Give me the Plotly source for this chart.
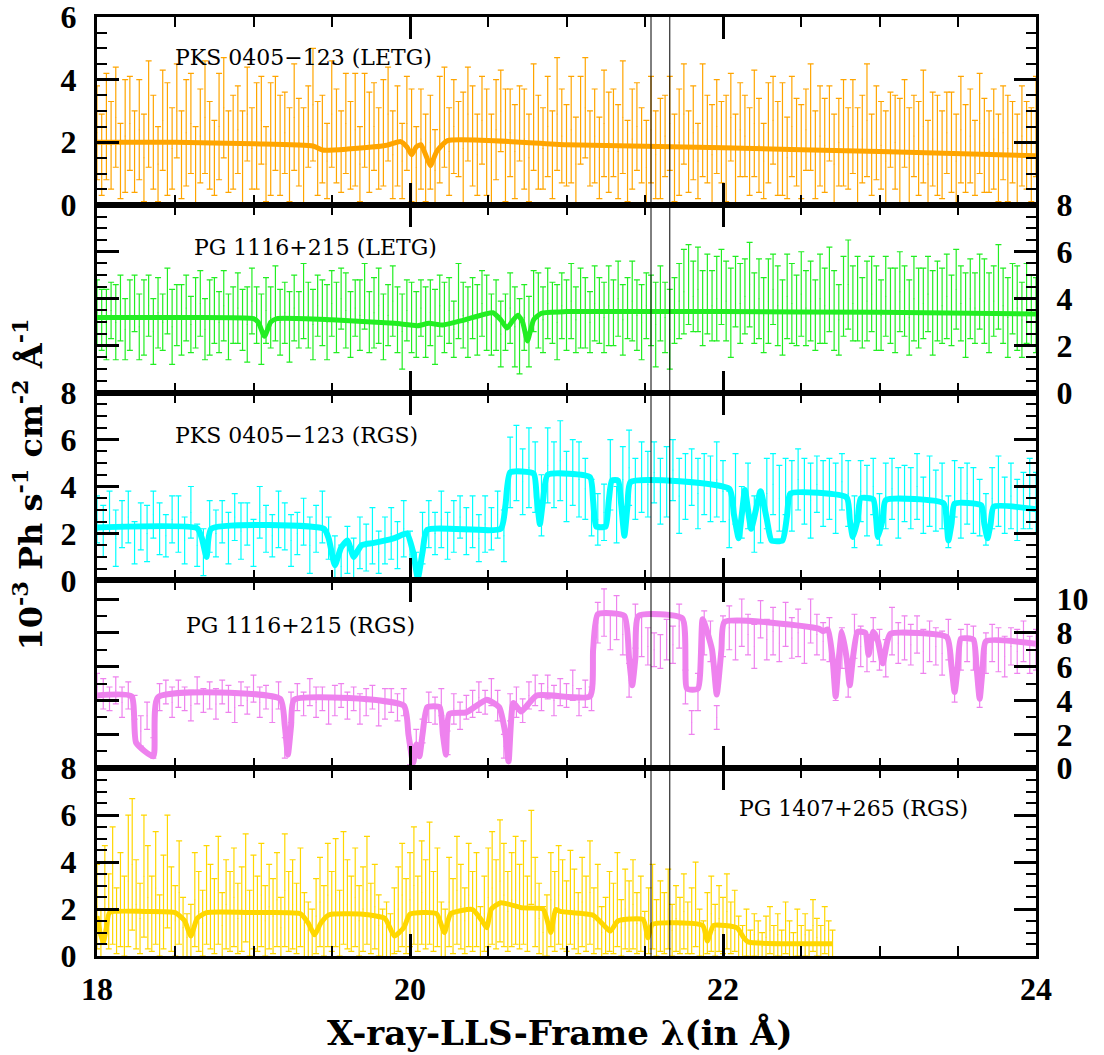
import numpy as np
import plotly.graph_objects as go
from plotly.subplots import make_subplots

# ---------------- data ----------------
# Panel 1: PKS 0405-123 (LETG), bins 18.00..24.00 step 0.03
p1_x = np.round(18.0 + 0.03 * np.arange(201), 3)
p1_y = [2.3,1.6,2.5,1.9,2.8,1.4,2.2,2.6,1.7,2.4,
        1.5,2.9,2.0,1.3,2.7,2.1,1.8,3.0,1.6,2.3,
        2.6,1.2,2.2,2.8,1.9,1.5,2.5,3.1,1.7,2.0,
        2.4,1.4,2.9,1.8,2.2,2.7,1.3,2.1,2.6,1.9,
        2.3,1.6,2.8,2.0,1.5,2.5,3.2,1.8,2.1,1.4,
        2.9,2.2,1.7,2.6,1.9,2.4,1.3,2.7,2.0,2.5,
        1.8,2.3,2.9,1.6,2.2,1.4,2.6,1.9,1.2,2.1,
        1.5,2.0,1.1,2.4,2.8,1.7,2.5,2.1,1.8,2.9,
        2.2,1.6,2.7,2.0,1.4,2.4,3.0,1.9,2.3,1.7,
        2.6,2.1,1.5,2.8,2.0,1.8,2.5,1.6,2.9,2.2,
        1.9,2.4,1.3,2.7,3.1,1.8,2.2,1.5,2.6,2.0,
        2.3,1.7,2.8,1.4,2.1,2.5,1.9,1.2,2.4,1.6,
        1.8,2.2,2.6,1.5,2.0,2.9,1.7,2.3,1.4,2.7,
        2.1,1.6,2.5,2.0,1.8,2.8,1.3,2.4,2.2,1.7,
        2.6,1.9,1.4,2.3,2.7,1.8,2.1,1.5,2.5,2.0,
        1.7,2.4,2.8,1.6,2.2,1.9,2.6,1.3,2.0,2.3,
        1.8,2.5,1.5,2.1,2.7,1.6,2.3,1.9,1.4,2.4,
        2.0,1.7,2.6,1.5,2.2,1.8,2.5,1.3,2.1,1.9,
        1.6,2.3,2.0,1.4,2.4,1.8,2.2,1.5,2.6,1.9,
        1.7,2.1,1.5,2.3,1.8,2.0,1.4,2.2,1.9,1.6,2.5]
p1_err = [1.5,1.3,1.7,1.4,1.6,1.2,1.8,1.5,1.3,1.6,
          1.4,1.7,1.5,1.2,1.6,1.8,1.3,1.5,1.4,1.7,
          1.6,1.3,1.5,1.8,1.4,1.2,1.7,1.6,1.3,1.5,
          1.4,1.6,1.5,1.3,1.7,1.4,1.2,1.8,1.5,1.6,
          1.3,1.5,1.7,1.4,1.6,1.3,1.8,1.5,1.4,1.2,
          1.7,1.5,1.3,1.6,1.4,1.8,1.2,1.5,1.6,1.4,
          1.3,1.7,1.5,1.4,1.6,1.2,1.5,1.8,1.3,1.6,
          1.4,1.5,1.3,1.7,1.6,1.4,1.5,1.2,1.8,1.5,
          1.6,1.3,1.4,1.7,1.5,1.6,1.3,1.8,1.4,1.5,
          1.2,1.6,1.4,1.7,1.5,1.3,1.6,1.4,1.8,1.5,
          1.3,1.7,1.5,1.4,1.6,1.2,1.5,1.3,1.7,1.6,
          1.4,1.5,1.8,1.3,1.6,1.4,1.2,1.5,1.7,1.4,
          1.6,1.3,1.5,1.4,1.7,1.6,1.3,1.5,1.2,1.8,
          1.4,1.6,1.5,1.3,1.7,1.4,1.6,1.5,1.3,1.4,
          1.7,1.5,1.2,1.6,1.4,1.5,1.8,1.3,1.6,1.4,
          1.5,1.3,1.7,1.4,1.6,1.5,1.2,1.6,1.4,1.7,
          1.3,1.5,1.6,1.4,1.8,1.3,1.5,1.4,1.6,1.2,
          1.5,1.7,1.4,1.6,1.3,1.5,1.8,1.4,1.5,1.6,
          1.4,1.3,1.6,1.5,1.7,1.4,1.5,1.2,1.6,1.5,
          1.3,1.6,1.4,1.5,1.7,1.3,1.5,1.6,1.4,1.5,1.6]
p1_mx = [18.0,18.5,19.0,19.38,19.44,19.6,19.85,19.94,19.98,20.01,20.04,20.07,20.10,20.13,20.17,20.24,21.0,22.0,23.0,24.0]
p1_my = [2.0,2.0,1.95,1.88,1.75,1.78,1.9,2.02,1.85,1.6,1.85,1.92,1.6,1.25,1.7,2.05,1.92,1.82,1.7,1.57]

# Panel 2: PG 1116+215 (LETG), bins 18.00..24.00 step 0.03
p2_x = np.round(18.0 + 0.03 * np.arange(201), 3)
p2_y = [3.4,3.1,2.9,3.5,3.0,3.6,2.7,3.3,3.8,2.8,
        3.2,3.7,2.6,3.4,3.0,3.9,2.8,3.3,3.1,3.6,
        2.9,3.4,3.8,2.7,3.2,3.5,3.0,3.7,2.8,3.3,
        3.6,3.1,2.9,3.9,3.3,2.7,3.5,3.2,3.8,3.0,
        3.4,2.8,3.6,3.1,3.9,3.3,2.9,3.7,3.4,3.0,
        3.8,3.2,4.0,3.5,2.9,3.6,3.3,4.1,3.0,3.4,
        3.7,2.8,3.3,3.9,3.1,2.6,3.5,3.2,2.9,3.6,
        3.0,3.4,2.8,3.7,3.2,3.5,2.7,3.9,3.3,3.0,
        3.6,3.1,3.8,3.4,2.9,3.3,2.5,3.0,3.6,2.8,
        2.4,3.2,2.6,3.9,3.5,3.1,3.8,3.4,3.0,3.7,
        3.3,3.9,3.1,3.6,3.4,3.0,3.8,3.5,3.2,3.7,
        3.4,4.0,3.1,3.6,3.9,3.3,3.0,3.7,3.5,2.9,
        3.8,3.2,2.7,3.5,3.9,4.3,4.6,4.1,4.4,3.6,
        4.2,3.7,4.0,4.5,3.9,3.4,4.3,3.8,4.1,4.6,
        3.6,4.0,3.3,3.9,4.4,3.7,3.2,4.1,3.8,3.5,
        4.2,3.6,3.9,3.3,4.0,3.7,4.4,3.5,3.1,4.1,
        4.6,3.8,4.0,3.4,3.9,4.2,3.6,3.3,4.1,3.7,
        3.5,4.3,3.9,3.2,4.0,3.6,3.8,4.2,3.4,3.9,
        3.7,4.1,3.5,4.4,3.8,3.3,4.0,3.6,4.3,3.9,
        3.4,3.9,4.5,3.7,3.2,4.0,3.6,3.1,3.8,3.5,3.3]
p2_err = [1.4,1.3,1.5,1.2,1.6,1.4,1.3,1.5,1.2,1.4,
          1.6,1.3,1.4,1.5,1.2,1.4,1.6,1.3,1.5,1.4,
          1.2,1.5,1.4,1.3,1.6,1.4,1.3,1.5,1.4,1.2,
          1.5,1.3,1.6,1.4,1.2,1.5,1.4,1.3,1.6,1.4,
          1.3,1.5,1.4,1.2,1.6,1.4,1.5,1.3,1.4,1.6,
          1.4,1.5,1.3,1.6,1.4,1.2,1.5,1.4,1.3,1.5,
          1.6,1.4,1.3,1.5,1.4,1.6,1.3,1.5,1.4,1.2,
          1.5,1.4,1.6,1.3,1.5,1.4,1.2,1.6,1.4,1.5,
          1.3,1.5,1.4,1.6,1.3,1.5,1.4,1.2,1.5,1.7,
          1.6,1.4,1.5,1.3,1.6,1.4,1.5,1.3,1.6,1.4,
          1.5,1.6,1.4,1.7,1.5,1.3,1.6,1.4,1.5,1.7,
          1.4,1.6,1.5,1.3,1.7,1.5,1.6,1.4,1.5,1.8,
          1.6,1.5,1.7,1.4,1.6,1.8,1.7,1.5,1.8,1.6,
          1.7,1.5,1.8,1.6,1.7,1.9,1.5,1.7,1.6,1.8,
          1.5,1.7,1.6,1.8,1.5,1.7,1.6,1.8,1.7,1.5,
          1.8,1.6,1.7,1.5,1.9,1.6,1.8,1.7,1.5,1.7,
          1.9,1.6,1.8,1.5,1.7,1.6,1.8,1.5,1.7,1.6,
          1.8,1.7,1.5,1.6,1.8,1.7,1.5,1.6,1.8,1.7,
          1.6,1.8,1.5,1.7,1.6,1.8,1.7,1.5,1.6,1.8,
          1.7,1.5,1.8,1.6,1.7,1.5,1.8,1.6,1.7,1.5,1.6]
p2_mx = [18.0,18.5,19.0,19.03,19.07,19.11,19.15,19.5,19.9,20.05,20.12,20.21,20.35,20.53,20.58,20.62,20.66,20.69,20.72,20.75,20.79,20.84,21.0,22.0,23.0,24.0]
p2_my = [3.2,3.2,3.15,3.0,2.4,3.0,3.15,3.1,2.95,2.85,2.95,2.88,3.1,3.4,3.1,2.75,3.1,3.3,3.0,2.2,3.1,3.38,3.45,3.45,3.42,3.35]

# Panel 3: PKS 0405-123 (RGS), bins 18.00..24.00 step 0.04
p3_x = np.round(18.0 + 0.04 * np.arange(151), 3)
p3_y = [2.6,2.1,2.9,1.8,2.4,2.7,1.6,2.3,2.0,2.8,
        2.2,1.9,2.6,2.4,1.7,2.9,1.5,1.2,2.3,2.0,
        2.5,1.8,2.7,2.1,2.4,1.6,2.9,2.2,1.9,2.6,
        2.3,1.7,2.0,2.5,1.5,2.2,2.7,1.8,0.9,0.6,
        1.3,0.9,1.6,1.4,1.9,1.2,1.7,2.0,1.5,2.2,
        1.1,0.4,1.8,2.4,2.0,2.6,1.9,2.3,2.7,2.1,
        2.5,1.8,2.4,2.2,2.8,1.9,4.6,5.0,4.2,4.8,
        4.4,3.2,4.9,4.5,5.1,4.0,4.6,4.3,3.9,3.1,
        2.6,2.9,4.5,2.8,4.3,4.8,3.9,4.4,4.1,4.6,
        3.8,4.2,4.7,3.6,4.0,4.4,3.7,4.1,3.9,4.3,
        3.8,2.6,3.9,2.9,3.6,2.4,2.7,3.7,4.1,3.5,
        4.0,3.6,4.3,3.8,3.4,4.1,3.7,3.9,3.5,4.2,
        3.7,2.5,3.8,3.4,4.0,2.6,3.6,3.9,3.3,3.7,
        3.5,4.0,3.2,3.8,3.4,3.6,2.5,3.9,3.3,3.7,
        3.4,3.1,2.6,3.5,3.8,3.2,3.6,3.0,3.4,3.7,
        3.3]
p3_err = [1.0,1.1,0.9,1.2,1.0,1.1,0.9,1.0,1.2,1.0,
          1.1,0.9,1.0,1.2,1.0,1.1,0.9,1.0,1.1,1.0,
          0.9,1.1,1.0,1.2,0.9,1.0,1.1,1.0,0.9,1.2,
          1.0,1.1,0.9,1.0,1.2,1.0,1.1,0.9,1.0,0.9,
          1.0,0.9,1.1,1.0,1.2,0.9,1.0,1.1,1.0,1.2,
          1.0,0.8,1.1,1.0,0.9,1.2,1.0,1.1,0.9,1.0,
          1.1,1.0,1.2,0.9,1.0,1.1,1.5,1.6,1.4,1.7,
          1.5,1.3,1.6,1.4,1.7,1.5,1.4,1.6,1.3,1.2,
          1.1,1.2,1.5,1.2,1.4,1.6,1.3,1.5,1.4,1.3,
          1.4,1.5,1.3,1.6,1.4,1.2,1.5,1.3,1.4,1.6,
          1.3,1.2,1.5,1.1,1.4,1.2,1.1,1.5,1.3,1.4,
          1.2,1.5,1.3,1.4,1.6,1.2,1.4,1.3,1.5,1.2,
          1.4,1.1,1.3,1.5,1.2,1.1,1.4,1.3,1.5,1.2,
          1.3,1.4,1.2,1.5,1.3,1.4,1.1,1.2,1.5,1.3,
          1.4,1.2,1.1,1.3,1.5,1.2,1.4,1.3,1.2,1.5,
          1.3]
p3_mx = [18.0,18.64,18.67,18.70,18.73,19.45,19.48,19.52,19.56,19.60,19.64,19.66,19.69,19.72,19.77,19.9,19.98,20.02,20.05,20.08,20.11,20.58,20.61,20.64,20.79,20.81,20.83,20.85,20.88,21.15,21.17,21.19,21.25,21.27,21.29,21.33,21.35,21.37,21.39,21.41,22.04,22.07,22.10,22.12,22.14,22.16,22.18,22.21,22.24,22.28,22.31,22.38,22.41,22.43,22.79,22.81,22.83,22.86,22.88,22.96,22.99,23.02,23.04,23.41,23.43,23.44,23.46,23.48,23.65,23.67,23.69,23.71,23.73,24.0]
p3_my = [2.25,2.22,1.8,1.0,2.2,2.2,1.8,0.65,1.4,1.7,1.0,1.2,1.5,1.55,1.6,1.8,2.0,1.2,0.1,1.2,2.15,2.2,3.2,4.6,4.55,3.5,2.4,3.4,4.5,4.4,3.4,2.3,2.3,3.4,4.25,4.25,3.2,1.9,3.2,4.2,3.9,2.8,1.8,2.8,3.85,3.0,2.2,3.0,3.8,2.6,1.7,1.7,2.8,3.7,3.53,2.6,1.85,2.6,3.5,3.45,1.85,2.6,3.42,3.28,2.4,1.7,2.4,3.27,3.2,2.4,1.8,2.4,3.14,3.03]

# Panel 4: PG 1116+215 (RGS), bins 18.00..24.00 step 0.04
p4_x = np.round(18.0 + 0.04 * np.arange(151), 3)
p4_y = [4.8,4.4,4.1,4.6,3.9,4.3,3.6,2.2,3.1,1.2,
        4.2,4.5,3.9,4.4,4.1,3.7,4.6,4.0,4.3,3.8,
        4.5,4.1,3.6,4.4,4.0,4.7,3.9,4.2,3.5,4.3,
        1.2,3.6,4.2,3.8,4.5,3.9,4.1,3.4,4.0,4.3,
        3.7,4.1,3.5,3.9,4.2,3.3,3.8,4.0,3.6,3.9,
        0.8,1.6,2.2,3.6,3.4,3.9,1.5,3.5,3.1,3.6,
        3.8,4.2,3.9,4.5,3.7,1.3,3.6,3.9,3.4,4.3,
        4.6,4.2,4.8,4.0,4.5,4.3,4.9,3.9,4.4,4.1,
        8.6,9.2,8.1,8.9,7.9,5.2,8.4,7.8,7.2,7.0,
        6.9,7.6,7.3,8.4,4.8,2.7,4.5,8.0,7.5,3.0,
        7.8,8.3,7.5,8.6,7.9,7.2,8.8,7.6,8.1,7.4,
        8.5,7.7,8.0,7.3,8.7,7.9,7.5,7.6,5.0,7.1,
        5.3,7.8,7.2,6.8,7.6,7.0,6.5,8.1,7.4,7.7,
        7.3,7.9,6.9,7.5,7.2,6.8,7.6,4.9,7.0,7.4,
        7.1,4.6,6.8,7.4,7.0,6.6,7.2,6.9,7.5,6.7,
        7.0]
p4_err = [0.8,0.9,0.7,0.8,0.9,0.8,0.7,0.9,0.8,0.6,
          0.8,0.7,0.9,0.8,0.7,0.9,0.8,0.7,0.8,0.9,
          0.7,0.8,0.9,0.7,0.8,0.8,0.9,0.7,0.8,0.8,
          0.6,0.9,0.8,0.7,0.8,0.9,0.7,0.8,0.9,0.7,
          0.8,0.7,0.9,0.8,0.7,0.8,0.9,0.7,0.8,0.8,
          0.6,0.7,0.7,0.9,0.8,0.8,0.7,0.9,0.8,0.7,
          0.8,0.9,0.7,0.8,0.9,0.7,0.8,0.9,0.7,0.8,
          0.9,0.8,0.7,0.9,0.8,0.7,0.9,0.8,0.8,0.7,
          1.2,1.4,1.1,1.3,1.2,1.0,1.3,1.2,1.1,1.0,
          1.0,1.2,1.1,1.3,1.0,0.7,1.1,1.3,1.2,0.7,
          1.2,1.3,1.1,1.4,1.2,1.3,1.1,1.2,1.4,1.1,
          1.3,1.2,1.4,1.1,1.3,1.2,1.1,1.3,1.0,1.2,
          1.1,1.3,1.2,1.1,1.3,1.2,1.1,1.4,1.2,1.3,
          1.2,1.1,1.3,1.2,1.1,1.3,1.2,1.0,1.2,1.1,
          1.3,1.0,1.2,1.1,1.3,1.2,1.1,1.3,1.2,1.1,
          1.2]
p4_mx = [18.0,18.22,18.25,18.36,18.39,19.17,19.2,19.22,19.24,19.26,19.96,19.99,20.02,20.04,20.06,20.08,20.11,20.19,20.21,20.23,20.25,20.36,20.49,20.57,20.61,20.63,20.66,20.71,20.81,21.15,21.17,21.20,21.37,21.40,21.42,21.44,21.46,21.74,21.77,21.84,21.87,21.93,21.96,21.99,22.01,22.61,22.64,22.67,22.70,22.72,22.74,22.76,22.79,22.81,22.83,22.86,22.91,22.93,22.96,22.99,23.02,23.05,23.07,23.43,23.46,23.48,23.50,23.52,23.60,23.62,23.64,23.66,23.68,24.0]
p4_my = [4.3,4.25,1.5,0.7,4.2,4.1,2.5,0.8,2.5,4.05,3.7,2.0,0.3,1.4,0.7,2.0,3.6,3.6,2.0,0.8,3.2,3.3,4.05,3.6,2.0,0.4,3.85,3.35,4.3,4.25,7.0,9.1,9.0,6.5,4.9,6.5,9.0,8.85,4.7,4.7,8.8,7.0,4.35,7.0,8.65,8.25,8.1,8.2,6.5,4.24,6.5,8.06,6.5,4.9,6.5,8.06,8.0,6.7,8.06,7.5,6.2,7.5,7.95,7.75,6.0,4.5,6.0,7.65,7.6,6.0,4.1,6.0,7.5,7.35]

# Panel 5: PG 1407+265 (RGS), bins 18.000..22.700 step 0.025
p5_x = np.round(18.0 + 0.025 * np.arange(189), 4)
p5_y = [2.1,0.8,2.6,1.9,3.0,1.5,2.4,1.7,3.2,3.9,
        2.2,1.6,3.4,2.5,1.8,2.9,1.3,2.3,3.6,2.0,
        1.5,2.7,1.2,0.8,1.0,2.4,1.9,1.4,2.6,2.1,
        1.7,2.8,1.3,2.2,1.9,2.5,1.6,2.0,2.9,1.4,
        2.3,1.8,2.6,1.5,2.1,1.7,2.4,1.2,2.8,1.9,
        2.2,1.6,2.5,1.3,1.1,0.9,1.7,2.3,1.5,2.6,
        1.9,2.7,1.4,2.9,2.2,1.8,2.5,1.5,2.0,2.8,
        1.6,2.1,1.3,0.9,1.1,0.8,1.5,2.0,2.6,1.7,
        2.4,3.0,1.8,2.7,2.2,3.1,1.9,2.5,1.1,0.9,
        2.3,1.7,2.8,2.1,1.5,2.6,1.9,2.4,1.0,1.8,
        2.5,2.9,2.2,3.2,2.6,1.9,2.4,2.8,2.1,2.7,
        1.8,4.2,2.3,1.6,1.0,1.3,2.4,1.9,2.6,2.2,
        1.7,2.5,2.0,1.4,2.3,1.8,2.7,1.5,2.1,1.0,
        1.3,1.9,1.6,2.4,1.2,2.0,1.7,2.2,1.4,1.8,
        0.9,1.5,2.1,1.2,1.7,1.4,2.0,1.1,1.6,1.3,
        1.9,1.2,1.5,2.2,1.0,0.7,1.4,1.8,1.1,1.6,
        1.3,1.9,1.2,1.5,0.8,0.6,1.0,0.5,0.9,0.7,
        0.4,0.8,1.1,0.6,0.9,0.5,1.2,0.7,0.4,1.0,
        0.6,0.9,0.5,1.3,0.8,0.6,1.1,0.7,0.5]
p5_err = [1.8,1.2,2.1,1.6,2.5,1.4,2.0,1.7,2.8,2.8,
          1.9,1.5,2.6,2.2,1.6,2.4,1.3,2.0,2.4,1.8,
          1.5,2.2,1.3,1.0,1.2,2.0,1.7,1.4,2.1,1.8,
          1.6,2.3,1.4,1.9,1.7,2.1,1.5,1.8,2.3,1.4,
          2.0,1.6,2.2,1.5,1.8,1.6,2.0,1.3,2.4,1.7,
          1.9,1.5,2.1,1.4,1.2,1.1,1.6,1.9,1.5,2.2,
          1.7,2.3,1.4,2.4,1.9,1.6,2.1,1.5,1.8,2.3,
          1.5,1.8,1.3,1.1,1.2,1.0,1.4,1.8,2.2,1.6,
          2.0,2.5,1.6,2.2,1.9,2.6,1.7,2.1,1.2,1.1,
          1.9,1.6,2.3,1.8,1.4,2.2,1.7,2.0,1.1,1.6,
          2.1,2.4,1.9,2.6,2.2,1.7,2.0,2.3,1.8,2.2,
          1.6,2.0,1.9,1.5,1.1,1.3,2.0,1.7,2.1,1.9,
          1.5,2.0,1.7,1.3,1.9,1.6,2.2,1.4,1.8,1.1,
          1.2,1.7,1.5,2.0,1.2,1.7,1.5,1.9,1.3,1.6,
          1.0,1.4,1.8,1.2,1.5,1.3,1.7,1.1,1.4,1.2,
          1.6,1.1,1.4,1.8,1.0,0.8,1.3,1.6,1.1,1.4,
          1.2,1.6,1.1,1.3,0.9,0.7,1.0,0.6,0.9,0.8,
          0.6,0.9,1.0,0.7,0.9,0.6,1.1,0.8,0.6,1.0,
          0.7,0.9,0.6,1.1,0.8,0.7,1.0,0.8,0.6]
p5_mx = [18.0,18.02,18.04,18.06,18.08,18.3,18.5,18.56,18.6,18.64,18.7,19.0,19.3,19.35,19.39,19.43,19.48,19.7,19.84,19.9,19.96,20.0,20.17,20.22,20.26,20.4,20.46,20.49,20.52,20.58,20.72,20.85,20.9,20.93,20.96,21.17,21.24,21.28,21.33,21.49,21.52,21.55,21.87,21.9,21.94,22.09,22.13,22.16,22.7]
p5_my = [1.7,1.0,0.57,1.2,1.85,1.9,1.85,1.5,0.85,1.6,1.85,1.85,1.8,1.4,0.9,1.4,1.75,1.78,1.6,0.85,1.2,1.78,1.8,1.0,1.8,1.98,1.5,1.2,2.0,2.27,2.05,2.0,1.0,1.98,1.9,1.74,1.3,1.06,1.5,1.55,0.78,1.35,1.3,0.64,1.3,1.2,0.8,0.6,0.52]

labels = ["PKS 0405\u2212123 (LETG)", "PG 1116+215 (LETG)", "PKS 0405\u2212123 (RGS)",
          "PG 1116+215 (RGS)", "PG 1407+265 (RGS)"]
marker_lines = [21.54, 21.66]

# ---------------- figure ----------------
panels = [
    dict(x=p1_x, y=p1_y, e=p1_err, mx=p1_mx, my=p1_my, c="#FFA500", rng=[0, 6], minor=0.5, side="left",
         lx=18.486, ly=4.72, lw=5),
    dict(x=p2_x, y=p2_y, e=p2_err, mx=p2_mx, my=p2_my, c="#22EE22", rng=[0, 8], minor=0.5, side="right",
         lx=18.607, ly=6.2, lw=5),
    dict(x=p3_x, y=p3_y, e=p3_err, mx=p3_mx, my=p3_my, c="#00FFFF", rng=[0, 8], minor=0.5, side="left",
         lx=18.486, ly=6.17, lw=6),
    dict(x=p4_x, y=p4_y, e=p4_err, mx=p4_mx, my=p4_my, c="#EE82EE", rng=[0, 11.1], minor=1, side="right",
         lx=18.556, ly=8.44, lw=6),
    dict(x=p5_x, y=p5_y, e=p5_err, mx=p5_mx, my=p5_my, c="#FFD700", rng=[0, 8], minor=0.5, side="left",
         lx=22.09, ly=6.3, lw=5),
]

fig = make_subplots(rows=5, cols=1, shared_xaxes=True, vertical_spacing=0)

tickfont = dict(family="Liberation Serif", size=32, color="black", weight="bold")

for i, p in enumerate(panels):
    r = i + 1
    fig.add_trace(go.Scatter(
        x=p["x"], y=p["y"], mode="markers",
        marker=dict(size=1, color=p["c"]),
        error_y=dict(type="data", array=p["e"], color=p["c"], thickness=1.2, width=3),
        showlegend=False, hoverinfo="skip"), row=r, col=1)
    fig.add_trace(go.Scatter(
        x=p["mx"], y=p["my"], mode="lines",
        line=dict(color=p["c"], width=p["lw"], shape="spline", smoothing=0.5),
        showlegend=False, hoverinfo="skip"), row=r, col=1)
    fig.update_xaxes(range=[18, 24], tick0=18, dtick=2, ticks="inside", ticklen=22, tickwidth=3,
                     tickcolor="black", showline=True, linewidth=3, linecolor="black", mirror="ticks",
                     showgrid=False, zeroline=False, showticklabels=(r == 5), automargin=False,
                     tickfont=tickfont, ticklabelstandoff=3, ticklabeloverflow="allow",
                     minor=dict(dtick=0.5, tick0=18, ticks="inside", ticklen=10, tickwidth=2,
                                tickcolor="black", showgrid=False),
                     row=r, col=1)
    fig.update_yaxes(range=p["rng"], tick0=0, dtick=2, ticks="inside", ticklen=22, tickwidth=3,
                     tickcolor="black", showline=True, linewidth=3, linecolor="black", mirror="ticks",
                     showgrid=False, zeroline=False, side=p["side"], tickfont=tickfont,
                     ticklabelstandoff=11, automargin=False, ticklabeloverflow="allow",
                     minor=dict(dtick=p["minor"], tick0=0, ticks="inside", ticklen=10, tickwidth=2,
                                tickcolor="black", showgrid=False),
                     row=r, col=1)
    xref = "x" if r == 1 else f"x{r}"
    yref = "y" if r == 1 else f"y{r}"
    fig.add_annotation(x=p["lx"], y=p["ly"], xref=xref, yref=yref, text=labels[i], showarrow=False,
                       xanchor="left", yanchor="middle",
                       font=dict(family="DejaVu Serif", size=22, color="black"))

for xv in marker_lines:
    fig.add_shape(type="line", x0=xv, x1=xv, y0=0, y1=1, xref="x", yref="paper",
                  line=dict(color="black", width=1), layer="above")

fig.add_annotation(x=-0.0735, y=0.502, xref="paper", yref="paper", textangle=-90, showarrow=False,
                   xanchor="center", yanchor="middle",
                   text="10<sup>-3</sup> Ph s<sup>-1</sup> cm<sup>-2</sup> \u00c5<sup>-1</sup>",
                   font=dict(family="DejaVu Serif", size=32, color="black", weight="bold"))
fig.add_annotation(x=0.493, y=-0.082, xref="paper", yref="paper", showarrow=False,
                   xanchor="center", yanchor="middle",
                   text="X-ray-LLS-Frame \u03bb(in \u00c5)",
                   font=dict(family="DejaVu Serif", size=34, color="black", weight="bold"))

fig.update_layout(width=1104, height=1055, margin=dict(l=97, r=68, t=17, b=99, autoexpand=False),
                  plot_bgcolor="white", paper_bgcolor="white")

fig.write_html("out.html")
